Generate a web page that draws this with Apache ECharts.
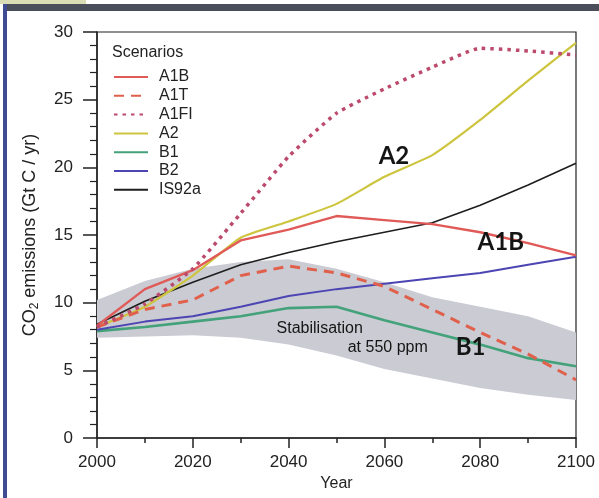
<!DOCTYPE html>
<html>
<head>
<meta charset="UTF-8">
<title>co2 scenarios</title>
<script src="https://cdn.jsdelivr.net/npm/echarts@6/dist/echarts.min.js"></script>
<style>
  html, body { margin: 0; padding: 0; background: #fff; }
  #chart { width: 599px; height: 498px; }
</style>
</head>
<body>
<div id="chart"></div>
<script type="text/javascript">
// data (Gt C / yr)
var years = [2000, 2010, 2020, 2030, 2040, 2050, 2060, 2070, 2080, 2090, 2100];
var scenarioNames = ['A1B', 'A1T', 'A1FI', 'A2', 'B1', 'B2', 'IS92a'];
var a1b   = [8.3, 11.0, 12.4, 14.6, 15.4, 16.4, 16.1, 15.8, 15.2, 14.4, 13.5];
var a1t   = [8.2, 9.5, 10.2, 12.0, 12.7, 12.2, 11.2, 9.5, 7.8, 6.2, 4.3];
var a1fi  = [8.2, 9.9, 12.5, 16.6, 20.8, 24.0, 25.8, 27.4, 28.8, 28.6, 28.3];
var a2    = [8.2, 9.7, 12.0, 14.8, 16.0, 17.3, 19.3, 20.9, 23.5, 26.4, 29.2];
var b1    = [7.9, 8.2, 8.6, 9.0, 9.6, 9.7, 8.7, 7.8, 6.9, 5.9, 5.3];
var b2    = [8.0, 8.6, 9.0, 9.7, 10.5, 11.0, 11.4, 11.8, 12.2, 12.8, 13.4];
var is92a = [8.4, 10.1, 11.5, 12.8, 13.7, 14.5, 15.2, 15.9, 17.2, 18.7, 20.3];
// stabilisation at 550 ppm range
var bandLower = [7.4, 7.5, 7.6, 7.4, 6.9, 6.1, 5.1, 4.4, 3.7, 3.2, 2.8];
var bandUpper = [10.2, 11.6, 12.5, 13.0, 13.2, 12.5, 11.5, 10.4, 9.7, 9.0, 7.8];

var yTicks = [0, 5, 10, 15, 20, 25, 30];
var xTicks = [2000, 2020, 2040, 2060, 2080, 2100];

// in-plot annotations [year, value, text]
var notes = [
  [2062, 20.8, 'A2', 'big'],
  [2084.3, 14.5, 'A1B', 'big'],
  [2078, 6.7, 'B1', 'big'],
  [2046.5, 8.1, 'Stabilisation', 'small'],
  [2060.7, 6.7, 'at 550 ppm', 'small']
];

var FONT = '"Liberation Sans", Arial, sans-serif';

function pairs(vals) {
  var out = [];
  for (var i = 0; i < years.length; i++) {
    out.push([years[i], vals[i]]);
  }
  return out;
}

function lineSeries(name, vals, color, width, type, smooth) {
  return {
    name: name,
    type: 'line',
    data: pairs(vals),
    symbol: 'none',
    smooth: smooth || false,
    z: 3,
    lineStyle: { color: color, width: width, type: type || 'solid', cap: 'butt' },
    itemStyle: { color: color }
  };
}

var myChart = echarts.init(document.getElementById('chart'));

var noteData = notes.map(function (n) {
  var big = n[3] === 'big';
  return {
    value: [n[0], n[1]],
    label: {
      show: true,
      position: 'inside',
      formatter: n[2],
      color: '#151515',
      fontFamily: big ? 'Lato, "Open Sans", sans-serif' : FONT,
      fontWeight: big ? 'bold' : 'normal',
      fontSize: big ? 24 : 16
    }
  };
});

var bandData = years.map(function (y, i) {
  return [y, bandLower[i], bandUpper[i]];
});

var option = {
  animation: false,
  backgroundColor: '#fff',
  title: {
    text: 'Scenarios',
    left: 107,
    top: 40,
    textStyle: { fontFamily: FONT, fontSize: 16, fontWeight: 'normal', color: '#222' }
  },
  legend: {
    data: scenarioNames,
    orient: 'vertical',
    left: 108,
    top: 64,
    itemWidth: 34,
    itemHeight: 12,
    itemGap: 2.8,
    itemStyle: { opacity: 0 },
    textStyle: { fontFamily: FONT, fontSize: 16, color: '#222', padding: [0, 0, 0, 6] }
  },
  grid: {
    left: 97,
    top: 32,
    right: 23,
    bottom: 60,
    show: true,
    borderColor: '#222',
    borderWidth: 1.2,
    backgroundColor: 'transparent'
  },
  xAxis: {
    type: 'value',
    min: 2000,
    max: 2100,
    interval: 20,
    name: 'Year',
    nameLocation: 'middle',
    nameGap: 37,
    nameTextStyle: { fontFamily: FONT, fontSize: 16, color: '#222' },
    axisLine: { lineStyle: { color: '#222', width: 1.5 } },
    axisTick: { length: 10, lineStyle: { color: '#222', width: 1.5 } },
    minorTick: { show: true, splitNumber: 2, length: 5, lineStyle: { color: '#222', width: 1.5 } },
    splitLine: { show: false },
    axisLabel: {
      fontFamily: FONT, fontSize: 17, color: '#222', margin: 16,
      formatter: function (v) { return xTicks.indexOf(v) >= 0 ? String(v) : ''; }
    }
  },
  yAxis: {
    type: 'value',
    min: 0,
    max: 30,
    interval: 5,
    name: '{a|CO}{s|2}{a| emissions (Gt C / yr)}',
    nameLocation: 'middle',
    nameGap: 56,
    nameTextStyle: {
      rich: {
        a: { fontFamily: FONT, fontSize: 18, color: '#222' },
        s: { fontFamily: FONT, fontSize: 12, color: '#222', padding: [10, 0, 0, 0] }
      }
    },
    axisLine: { show: true, lineStyle: { color: '#222', width: 1.5 } },
    axisTick: { show: true, length: 14, lineStyle: { color: '#222', width: 1.5 } },
    minorTick: { show: true, splitNumber: 5, length: 7, lineStyle: { color: '#222', width: 1.2 } },
    splitLine: { show: false },
    axisLabel: {
      fontFamily: FONT, fontSize: 17, color: '#222', margin: 24,
      formatter: function (v) { return yTicks.indexOf(v) >= 0 ? String(v) : ''; }
    }
  },
  graphic: [
    { type: 'rect', shape: { x: 0, y: 0, width: 86, height: 4 }, style: { fill: '#d9dcb4' }, z: 100 },
    { type: 'rect', shape: { x: 3, y: 4, width: 596, height: 7 }, style: { fill: '#4a4e5b' }, z: 100 },
    { type: 'rect', shape: { x: 3, y: 4, width: 4, height: 494 }, style: { fill: '#3f4c94' }, z: 100 }
  ],
  series: [
    {
      name: 'band',
      type: 'custom',
      data: bandData,
      encode: { x: 0, y: [1, 2] },
      z: 1,
      silent: true,
      renderItem: function (params, api) {
        if (params.dataIndex !== 0) {
          return;
        }
        var pts = [];
        var i;
        for (i = 0; i < years.length; i++) {
          pts.push(api.coord([years[i], bandUpper[i]]));
        }
        for (i = years.length - 1; i >= 0; i--) {
          pts.push(api.coord([years[i], bandLower[i]]));
        }
        return {
          type: 'polygon',
          shape: { points: pts },
          style: { fill: '#cacbd3' }
        };
      }
    },
    lineSeries('B1', b1, '#43a27a', 2.6),
    lineSeries('B2', b2, '#4d45b3', 2),
    lineSeries('IS92a', is92a, '#1e1e1e', 1.6),
    lineSeries('A2', a2, '#cdc53e', 2.2, 'solid', 0.15),
    lineSeries('A1T', a1t, '#e0604c', 3, [10, 7]),
    lineSeries('A1B', a1b, '#e05a58', 2.4),
    lineSeries('A1FI', a1fi, '#bc4a6c', 3.5, [3.5, 5], 0.15),
    {
      name: 'notes',
      type: 'scatter',
      symbolSize: 0,
      z: 5,
      silent: true,
      itemStyle: { opacity: 1 },
      data: noteData
    }
  ]
};

myChart.setOption(option);
</script>
</body>
</html>
